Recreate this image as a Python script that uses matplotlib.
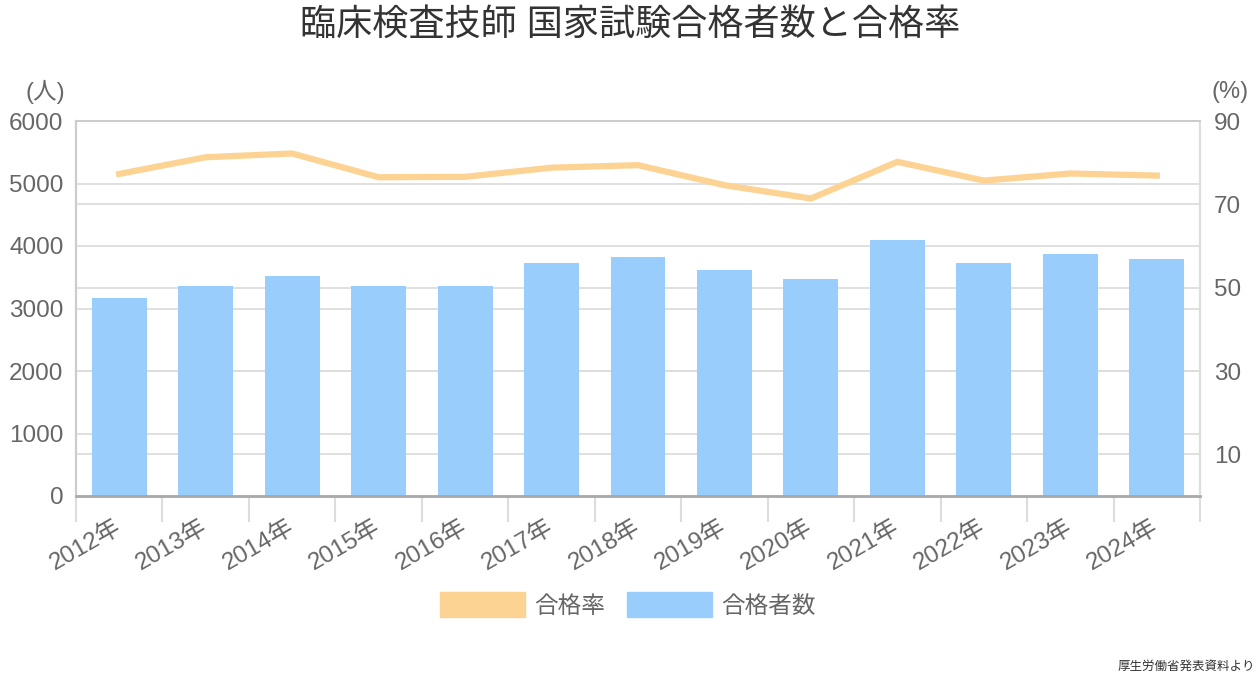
import numpy as np
import matplotlib
matplotlib.use('Agg')
import matplotlib.pyplot as plt
from matplotlib.patches import Patch

plt.rcParams['font.family'] = ['Liberation Sans', 'Noto Sans CJK JP', 'DejaVu Sans']

years = ['2012年', '2013年', '2014年', '2015年', '2016年', '2017年', '2018年',
         '2019年', '2020年', '2021年', '2022年', '2023年', '2024年']
passers = [3165, 3365, 3525, 3360, 3365, 3733, 3829, 3616, 3472, 4096, 3728, 3877, 3797]
pass_rate = [77.3, 81.3, 82.2, 76.5, 76.6, 78.8, 79.4, 74.6, 71.4, 80.2, 75.7, 77.4, 76.9]
left_ticks = [0, 1000, 2000, 3000, 4000, 5000, 6000]
right_ticks = [10, 30, 50, 70, 90]
L_MAX, R_MAX = 6000, 90

bar_color = '#99CEFC'
line_color = '#FDD394'
txt = '#666666'

fig = plt.figure(figsize=(12.6, 6.82), dpi=100)
ax = fig.add_axes([76/1260, 1-496/682, (1200-76)/1260, (496-121)/682])
ax2 = ax.twinx()

x = np.arange(len(years))
ax.bar(x, passers, width=0.635, color=bar_color, zorder=2)
ax.set_xlim(-0.5, len(years)-0.5)
ax.set_ylim(0, L_MAX)
ax.set_yticks(left_ticks)
ax.set_yticklabels([str(v) for v in left_ticks])

# grid lines for both axes, drawn behind bars
for v in left_ticks[1:]:
    ax.axhline(v, color='#dddddd', lw=1.3, zorder=0)
for v in right_ticks:
    ax.axhline(v*L_MAX/R_MAX, color='#dddddd', lw=1.3, zorder=0)

ax2.plot(x, pass_rate, color=line_color, lw=4.5, solid_joinstyle='miter', zorder=3)
ax2.set_ylim(0, R_MAX)
ax2.set_yticks(right_ticks)

ax.set_xticks(x)
ax.set_xticklabels(years, rotation=30, ha='right', va='center', rotation_mode='anchor')
ax.set_xticks(np.arange(-0.5, len(years)), minor=True)
ax.tick_params(axis='x', which='major', length=0, pad=21, labelsize=17.5, labelcolor=txt)
ax.tick_params(axis='x', which='minor', length=19, width=1.5, color='#dddddd')
ax.tick_params(axis='y', length=0, pad=9, labelsize=17.5, labelcolor=txt)
ax2.tick_params(axis='y', length=0, pad=10, labelsize=17.5, labelcolor=txt)

for a in (ax, ax2):
    a.spines['top'].set_color('#cccccc')
    a.spines['left'].set_color('#cccccc')
    a.spines['right'].set_color('#dddddd')
    a.spines['bottom'].set_color('#aaaaaa')
    a.spines['top'].set_linewidth(1.3)
    a.spines['left'].set_linewidth(1.5)
    a.spines['right'].set_linewidth(1.5)
    a.spines['bottom'].set_linewidth(1.8)

fig.text(45/1260, 1-92/682, '(人)', ha='center', va='center', fontsize=17, color=txt)
fig.text(1230/1260, 1-92/682, '(%)', ha='center', va='center', fontsize=17, color=txt)

fig.text(0.5, 1-25/682, '臨床検査技師 国家試験合格者数と合格率', ha='center', va='center',
         fontsize=26, color='#333333')

handles = [Patch(color=line_color, label='合格率'), Patch(color=bar_color, label='合格者数')]
fig.legend(handles=handles, loc='center', bbox_to_anchor=(628/1260, 1-605/682), ncol=2,
           frameon=False, fontsize=17, handlelength=3.6, handleheight=1.25,
           handletextpad=0.4, columnspacing=0.9, labelcolor=txt)

fig.text(1255/1260, 1-667/682, '厚生労働省発表資料より', ha='right', va='center',
         fontsize=9, color='#333333')

fig.savefig('out.png', dpi=100)
